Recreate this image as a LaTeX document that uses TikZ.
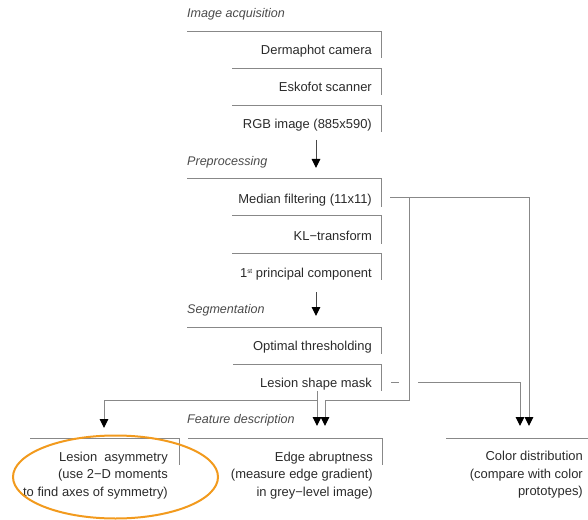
\documentclass[tikz,border=0pt]{standalone}
\usepackage{fontspec}
\setmainfont{Liberation Sans}
\usetikzlibrary{arrows.meta,calc}
\definecolor{txt}{HTML}{2A2A2A}
\definecolor{rule}{HTML}{888888}
\definecolor{stem}{HTML}{484848}
\definecolor{ring}{HTML}{F29A1D}

\begin{document}
\begin{tikzpicture}[x=1bp,y=-1bp,
  every node/.style={font=\fontsize{13}{17.5}\selectfont, text=txt, inner sep=0pt},
  stage/.style={anchor=base east},
  section/.style={anchor=base west, font=\fontsize{12.6}{15}\selectfont\itshape, text=txt!85},
  feature/.style={anchor=north east, align=right},
  frame/.style={draw=rule, line width=1bp},
  link/.style={draw=rule, line width=1bp},
  tip/.style={-{Triangle[width=8.5bp,length=9bp,color=black]}},
  flow/.style={draw=stem, line width=1bp, tip},
  sideflow/.style={link, tip}]
\useasboundingbox (0,0) rectangle (588,520);

% ---- section headings
\node[section] (acq)  at (187,18)  {Image acquisition};
\node[section] (pre)  at (187,166) {Preprocessing};
\node[section] (seg)  at (187,313) {Segmentation};
\node[section] (feat) at (187,423) {Feature description};

% ---- processing stages (open boxes: top and right edge only)
\node[stage] (cam)  at (372,55)  {Dermaphot camera};
\node[stage] (scan) at (372,92)  {Eskofot scanner};
\node[stage] (rgb)  at (372,129) {RGB image (885x590)};
\node[stage] (med)  at (372,204) {Median filtering (11x11)};
\node[stage] (kl)   at (372,240) {KL−transform};
\node[stage] (pca)  at (372,277) {1\raisebox{0.55ex}{\fontsize{6.5}{7}\selectfont st} principal component};
\node[stage] (thr)  at (372,350) {Optimal thresholding};
\node[stage] (mask) at (372,387) {Lesion shape mask};

\draw[frame] (187,32)  -- (381,32)  -- (381,58);
\draw[frame] (232,69)  -- (381,69)  -- (381,95);
\draw[frame] (232,106) -- (381,106) -- (381,132);
\draw[frame] (187,179) -- (381,179) -- (381,207);
\draw[frame] (232,216) -- (381,216) -- (381,244);
\draw[frame] (232,253) -- (381,253) -- (381,280);
\draw[frame] (187,327) -- (381,327) -- (381,354);
\draw[frame] (233,364) -- (381,364) -- (381,391);

% ---- feature boxes
\node[feature] (asym)  at (168,451.6) {Lesion\ \ asymmetry\\(use 2−D moments\\to find axes of symmetry)};
\node[feature] (edge)  at (373,451.6) {Edge abruptness\\(measure edge gradient)\\in grey−level image)};
\node[feature] (color) at (583,451.3) {Color distribution\\(compare with color\\prototypes)};

\draw[frame] (30,438)  -- (179,438) -- (179,465);
\draw[frame] (188,438) -- (382,438) -- (382,465);
\draw[frame] (446,438) -- (588,438);

% ---- connector end points
\coordinate (acqOut) at (316,140);
\coordinate (preIn)  at (316,168);
\coordinate (preOut) at (316,292);
\coordinate (segIn)  at (316,316);
\coordinate (medOut) at ($(med.base east)+(18,-6)$);
\coordinate (maskOut) at ($(mask.base east)+(19,-5)$);
\coordinate (maskDown) at (317,391);
\coordinate (asymIn) at (104,428);
\coordinate (edgeInA) at (317,426);
\coordinate (edgeInB) at (325,426);
\coordinate (colInA) at (520,426);
\coordinate (colInB) at (529,426);

% ---- main pipeline arrows
\draw[flow] (acqOut) -- (preIn);
\draw[flow] (preOut) -- (segIn);

% ---- median filtered image feeds edge and colour analysis
\draw[sideflow] (medOut) -| (409,400) -| (edgeInB);
\draw[sideflow] (medOut) -| (colInB);

% ---- shape mask feeds all three features
\draw[sideflow] (maskDown) -- (edgeInA);
\draw[sideflow] (317,400) -| (asymIn);
\draw[link] (maskOut) -- ++(8,0);
\draw[sideflow] (418,382) -| (colInA);

% ---- highlight
\draw[ring, line width=2bp] (115.5,477) ellipse [x radius=102.5, y radius=41.5];
\end{tikzpicture}
\end{document}
